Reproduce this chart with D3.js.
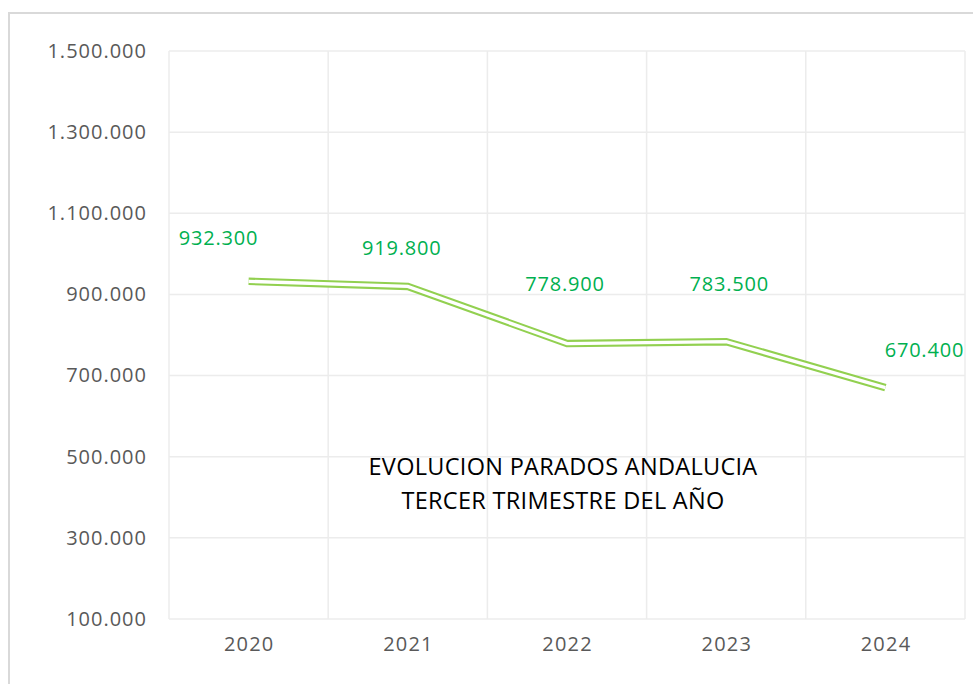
<!DOCTYPE html>
<html><head><meta charset="utf-8">
<script src="https://cdn.jsdelivr.net/npm/d3@7"></script>
<style>body{margin:0;background:#fff;}svg{display:block;}</style>
</head><body>
<script>
const years = ["2020","2021","2022","2023","2024"];
const parados = [932300, 919800, 778900, 783500, 670400];
const yTicks = [100000, 300000, 500000, 700000, 900000, 1100000, 1300000, 1500000];
const titleLines = ["EVOLUCION PARADOS ANDALUCIA", "TERCER TRIMESTRE DEL AÑO"];
const labelDx = [-30, -6, -2, 3, 39];
const labelDy = [-44, -39, -60, -58, -38];

const W = 973, H = 684;
const m = {left:169, top:51, right:965, bottom:619};
const svg = d3.select("body").append("svg").attr("width", W).attr("height", H);
const font = "'Open Sans', sans-serif";

svg.append("rect").attr("x",9).attr("y",13).attr("width",980).attr("height",700)
  .attr("fill","#fff").attr("stroke","#d9d9d9").attr("stroke-width",2);

const x = d3.scaleBand().domain(years).range([m.left, m.right]);
const y = d3.scaleLinear().domain([100000,1500000]).range([m.bottom, m.top]);
const fmt = v => d3.format(",")(v).replace(/,/g,".");

// gridlines
svg.append("g").selectAll("line").data(yTicks).join("line")
  .attr("x1",m.left).attr("x2",m.right).attr("y1",d=>y(d)).attr("y2",d=>y(d))
  .attr("stroke","#ececec").attr("stroke-width",1.5);
const vb = years.map(d=>x(d)).concat([m.right]);
svg.append("g").selectAll("line").data(vb).join("line")
  .attr("x1",d=>d).attr("x2",d=>d).attr("y1",m.top).attr("y2",m.bottom)
  .attr("stroke","#ececec").attr("stroke-width",1.5);

// axes
const yAxis = d3.axisLeft(y).tickValues(yTicks).tickFormat(fmt).tickSize(0).tickPadding(22);
const ga = svg.append("g").attr("transform",`translate(${m.left},0)`).call(yAxis);
ga.select(".domain").remove();
ga.selectAll("text").attr("font-family",font).attr("font-size",20).attr("fill","#595959")
  .attr("letter-spacing",1);

const xAxis = d3.axisBottom(x).tickSize(0).tickPadding(18);
const gx = svg.append("g").attr("transform",`translate(0,${m.bottom})`).call(xAxis);
gx.select(".domain").remove();
gx.selectAll("text").attr("font-family",font).attr("font-size",20).attr("fill","#595959")
  .attr("letter-spacing",1.2).attr("dx",0.6);

// line (double)
const line = d3.line().x((d,i)=>x(years[i])+x.bandwidth()/2).y(d=>y(d));
svg.append("path").datum(parados).attr("d",line).attr("fill","none")
  .attr("stroke","#92d050").attr("stroke-width",7.5).attr("stroke-linejoin","miter");
svg.append("path").datum(parados).attr("d",line).attr("fill","none")
  .attr("stroke","#fff").attr("stroke-width",3.3).attr("stroke-linejoin","miter");

// labels
svg.append("g").selectAll("text").data(parados).join("text")
  .attr("x",(d,i)=>x(years[i])+x.bandwidth()/2+labelDx[i])
  .attr("y",(d,i)=>y(d)+labelDy[i])
  .attr("text-anchor","middle").attr("dominant-baseline","central")
  .attr("font-family",font).attr("font-size",20).attr("fill","#00b050")
  .attr("letter-spacing",0.8)
  .text(d=>fmt(d));

// title
svg.append("g").selectAll("text").data(titleLines).join("text")
  .attr("x",563).attr("y",(d,i)=>466+i*34)
  .attr("text-anchor","middle").attr("dominant-baseline","central")
  .attr("font-family",font).attr("font-size",23.5).attr("fill","#000")
  .attr("letter-spacing",0.3)
  .text(d=>d);
</script>
</body></html>
